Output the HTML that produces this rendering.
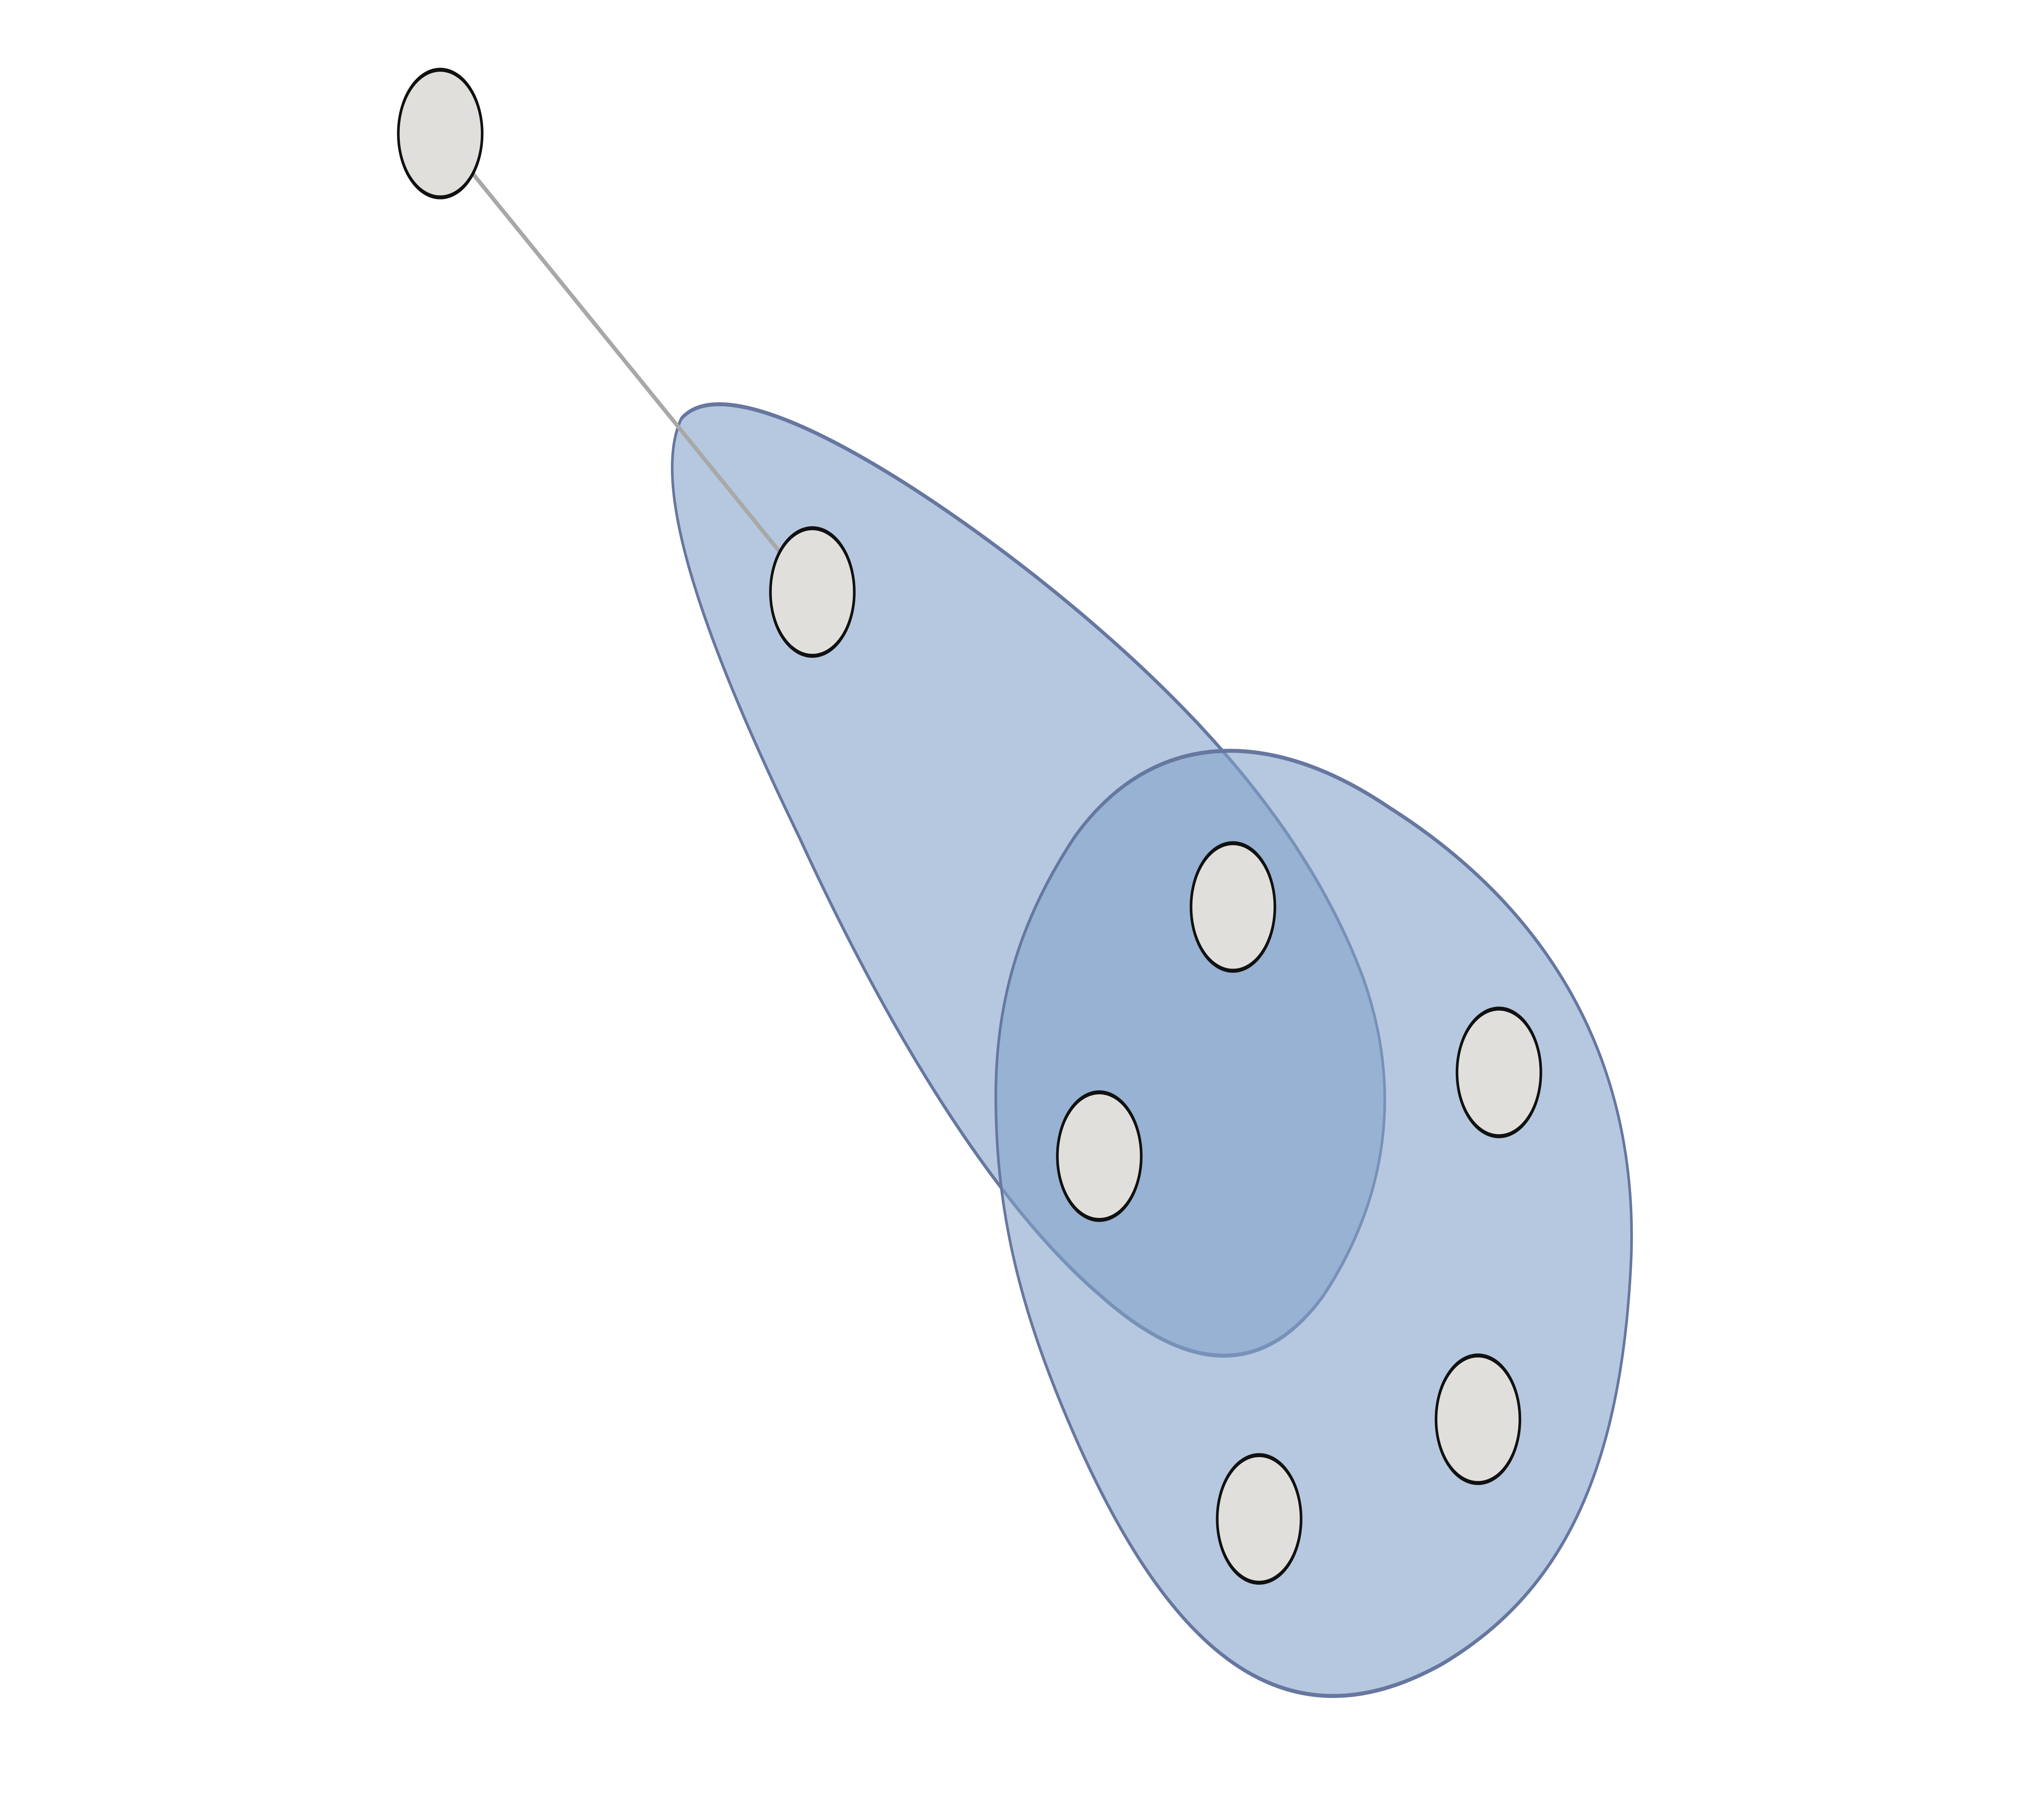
<!DOCTYPE html>
<html><head><meta charset="utf-8"><style>
html,body{margin:0;padding:0;background:#fff;width:100%;height:100%;overflow:hidden;}
svg{display:block;position:fixed;left:0;top:0;width:100vw;height:100vh;}
</style></head><body>
<svg id="chart" viewBox="0 0 1560 900" preserveAspectRatio="none" xmlns="http://www.w3.org/2000/svg">
<rect width="1560" height="900" fill="#fff"/>
<g id="hulls"></g>
<g id="edges"></g>
<g id="nodes"></g>
</svg>
<script>
const nodeX = [336, 620, 941, 839, 1144, 1128, 961];
const nodeY = [67, 297, 455, 580, 538, 712, 762];
const edgeFrom = [0];
const edgeTo = [1];
const hullPaths = [
 "M 520,210 C 560,180 720,250 820,305 C 920,360 1000,420 1040,490 C 1070,545 1060,600 1010,650 C 960,695 900,685 840,650 C 760,605 680,520 610,420 C 540,325 495,245 520,210 Z",
 "M 760,550 C 760,500 780,460 820,420 C 880,365 970,365 1060,405 C 1180,455 1250,530 1245,630 C 1238,740 1190,800 1100,835 C 990,875 900,840 820,720 C 780,660 760,610 760,550 Z"
];
const NS = "http://www.w3.org/2000/svg";
const hg = document.getElementById('hulls');
hullPaths.forEach((d, i) => {
  const p = document.createElementNS(NS, 'path');
  p.setAttribute('d', d);
  p.setAttribute('fill', 'rgb(131,163,201)');
  p.setAttribute('fill-opacity', '0.595');
  p.setAttribute('stroke', '#6677a0');
  p.setAttribute('stroke-width', '2');
  
  
  hg.appendChild(p);
});
const eg = document.getElementById('edges');
edgeFrom.forEach((f, i) => {
  const t = edgeTo[i];
  const l = document.createElementNS(NS, 'line');
  l.setAttribute('x1', nodeX[f]); l.setAttribute('y1', nodeY[f]);
  l.setAttribute('x2', nodeX[t]); l.setAttribute('y2', nodeY[t]);
  l.setAttribute('stroke', '#a8a8a8');
  l.setAttribute('stroke-width', '2.5');
  
  
  eg.appendChild(l);
});
const ng = document.getElementById('nodes');
nodeX.forEach((x, i) => {
  const c = document.createElementNS(NS, 'circle');
  c.setAttribute('cx', x); c.setAttribute('cy', nodeY[i]); c.setAttribute('r', 32);
  c.setAttribute('fill', '#e0dfdc');
  c.setAttribute('stroke', '#111');
  c.setAttribute('stroke-width', '2');
  
  
  ng.appendChild(c);
});
</script>
</body></html>
